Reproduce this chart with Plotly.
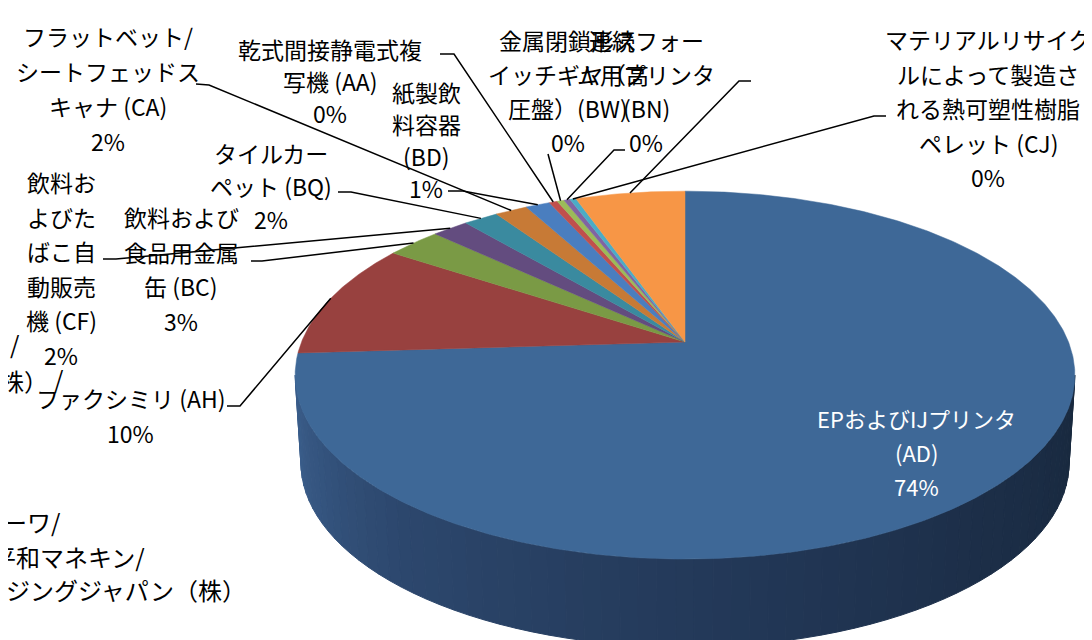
import numpy as np
import plotly.graph_objects as go

# ---------------- data ----------------
codes = ["AD", "AH", "BC", "CF", "BQ", "CA", "BD", "AA", "BW", "BN", "CJ", "その他"]
names = [
    "EPおよびIJプリンタ (AD)",
    "ファクシミリ (AH)",
    "飲料および食品用金属缶 (BC)",
    "飲料およびたばこ自動販売機 (CF)",
    "タイルカーペット (BQ)",
    "フラットベット/シートフェッドスキャナ (CA)",
    "紙製飲料容器 (BD)",
    "乾式間接静電式複写機 (AA)",
    "金属閉鎖形スイッチギヤ（高圧盤）(BW)",
    "連続フォーム用プリンタ (BN)",
    "マテリアルリサイクルによって製造される熱可塑性樹脂ペレット (CJ)",
    "その他",
]
values = [74.0, 10.2, 2.7, 1.8, 1.7, 1.6, 1.2, 0.4, 0.35, 0.3, 0.3, 5.4]
label_lines = [
    ["EPおよびIJプリンタ", "(AD)"],
    ["ファクシミリ (AH)"],
    ["飲料および", "食品用金属", "缶 (BC)"],
    ["飲料お", "よびた", "ばこ自", "動販売", "機 (CF)"],
    ["タイルカー", "ペット (BQ)"],
    ["フラットベット/", "シートフェッドス", "キャナ (CA)"],
    ["紙製飲", "料容器", "(BD)"],
    ["乾式間接静電式複", "写機 (AA)"],
    ["金属閉鎖形ス", "イッチギヤ（高", "圧盤）(BW)"],
    ["連続フォー", "ム用プリンタ", "(BN)"],
    ["マテリアルリサイク", "ルによって製造さ", "れる熱可塑性樹脂", "ペレット (CJ)"],
    ["その他"],
]

# ---------------- style ----------------
colors = ["#3E6897", "#98413F", "#7A9A45", "#634C7F", "#3A8A9F", "#C77A36",
          "#4A7EBF", "#C0504D", "#9BBB59", "#8064A2", "#4BACC6", "#F79646"]
text_colors = {"AD": "white", "その他": "white"}
# label placement: center x, first line y, line spacing
label_pos = {
    "AD": (908, 410, 34), "AH": (122, 390, 35), "BC": (173, 209, 34.7),
    "CF": (53, 174, 34.6), "BQ": (263, 145, 33), "CA": (100, 28, 35),
    "BD": (418, 84, 32), "AA": (322, 41, 32), "BW": (560, 32, 34),
    "BN": (638, 32, 34), "CJ": (980, 31, 34.5), "その他": (768, 33, 31),
}
leader_anchor = {
    "AH": [(219, 398), (232, 398)], "BC": [(243, 253), (254, 253)],
    "CF": [(95, 251), (108, 251)], "BQ": [(330, 184), (343, 184)],
    "CA": [(188, 76), (201, 77)], "BD": [(440, 183), (455, 183)],
    "AA": [(432, 46), (446, 46)], "BW": [(540, 146)],
    "BN": [(617, 142), (606, 142)], "CJ": [(878, 108), (866, 108)],
    "その他": [(743, 73), (731, 73)],
}
CX, CY, A, B, K, DEPTH, BOT_SCALE = 677.0, 334.0, 383.5, 178.0, 0.18, 88.0, 0.985
FONT = "Noto Sans CJK JP"


def proj(t_deg):
    t = np.radians(np.asarray(t_deg, dtype=float))
    d = 1 + K * np.sin(t)
    return CX + A * np.cos(t) / d, CY - B * np.sin(t) / d


fig = go.Figure()

# ---- side wall (front, with gradient) ----
t_left = 180 + np.degrees(np.arcsin(K))
t_right = 360 - np.degrees(np.arcsin(K))
stops_t = [t_left, 230, 270, 310, t_right]
stops_c = np.array([[60, 96, 142], [45, 72, 110], [36, 58, 90], [29, 47, 73], [24, 41, 62]])
edges = np.linspace(t_left, t_right, 70)
for i in range(len(edges) - 1):
    ts = np.linspace(edges[i], edges[i + 1], 4)
    xt, yt = proj(ts)
    xb = CX + (xt - CX) * BOT_SCALE
    yb = yt + DEPTH
    tm = 0.5 * (edges[i] + edges[i + 1])
    c = [int(np.interp(tm, stops_t, stops_c[:, j])) for j in range(3)]
    col = f"rgb({c[0]},{c[1]},{c[2]})"
    fig.add_trace(go.Scatter(
        x=np.concatenate([xt, xb[::-1], xt[:1]]),
        y=np.concatenate([yt, yb[::-1], yt[:1]]),
        mode="lines", fill="toself", fillcolor=col,
        line=dict(color=col, width=1), hoverinfo="skip", showlegend=False))

# ---- top slices ----
total = float(sum(values))
cum = np.concatenate([[0], np.cumsum(values)]) / total
mids = {}
for i, code in enumerate(codes):
    t0 = 90 - 360 * cum[i]
    t1 = 90 - 360 * cum[i + 1]
    n = max(3, int(abs(t0 - t1) / 0.5) + 2)
    ts = np.linspace(t0, t1, n)
    xr, yr = proj(ts)
    xs = np.concatenate([[CX], xr, [CX]])
    ys = np.concatenate([[CY], yr, [CY]])
    fig.add_trace(go.Scatter(
        x=xs, y=ys, mode="lines", fill="toself", fillcolor=colors[i],
        line=dict(color=colors[i], width=0.5), name=names[i],
        hoverinfo="name", showlegend=False))
    mids[code] = proj(0.5 * (t0 + t1))

# ---- leader lines ----
for code, pts in leader_anchor.items():
    mx, my = mids[code]
    xs = [p[0] for p in pts] + [float(mx)]
    ys = [p[1] for p in pts] + [float(my)]
    fig.add_trace(go.Scatter(x=xs, y=ys, mode="lines",
                             line=dict(color="black", width=1.5),
                             hoverinfo="skip", showlegend=False))

# ---- labels ----
annotations = []
for i, code in enumerate(codes):
    pct = f"{int(values[i] / total * 100 + 0.5)}%"
    lines = label_lines[i] + [pct]
    x0, y0, dy = label_pos[code]
    col = text_colors.get(code, "black")
    size = 22 if code == "AD" else 23
    for j, ln in enumerate(lines):
        annotations.append(dict(x=x0, y=y0 + j * dy, text=ln, showarrow=False,
                                xanchor="center", yanchor="middle",
                                font=dict(family=FONT, size=size, color=col)))

# background slide text partially hidden behind the chart (right-anchored)
bg_texts = [
    ("（株）", 42, 372), ("/", 14, 335), ("/", 58, 370),
    ("ーワ/", 55, 513), ("平和マネキン/", 139, 548),
    ("ジングジャパン（株）", 240, 581),
]
for txt, x, y in bg_texts:
    annotations.append(dict(x=x, y=y, text=txt, showarrow=False, xanchor="right",
                            yanchor="middle",
                            font=dict(family=FONT, size=24, color="black")))

fig.update_layout(
    width=1092, height=640, margin=dict(l=0, r=0, t=0, b=0),
    paper_bgcolor="white", plot_bgcolor="white",
    xaxis=dict(range=[0, 1092], visible=False, fixedrange=True),
    yaxis=dict(range=[640, 0], visible=False, fixedrange=True),
    annotations=annotations, showlegend=False,
)
fig.write_html("out.html")
